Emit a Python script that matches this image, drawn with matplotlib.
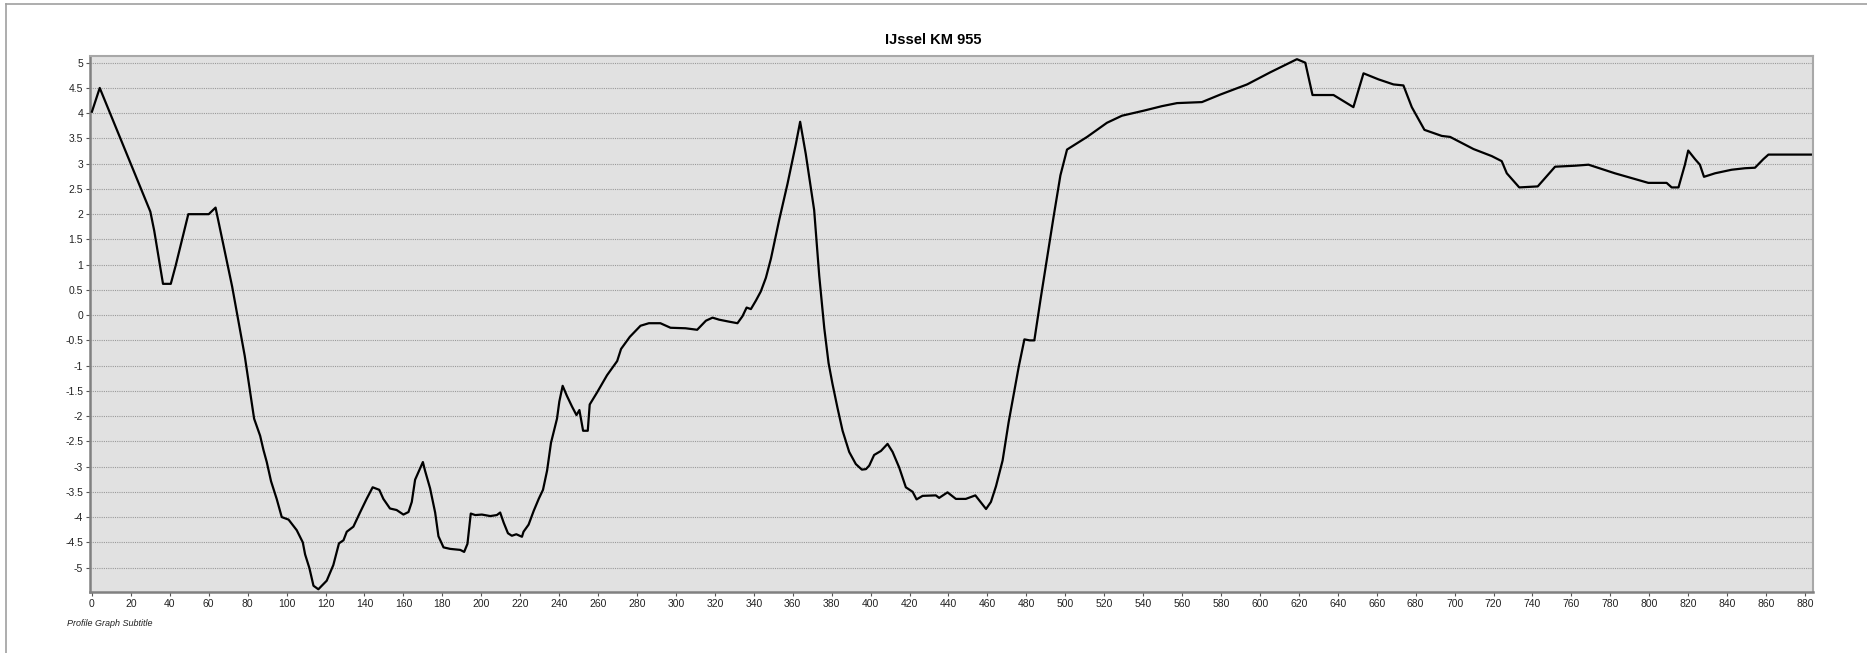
import numpy as np
import matplotlib
matplotlib.use("Agg")
import matplotlib.pyplot as plt
from matplotlib.lines import Line2D
from matplotlib.ticker import FuncFormatter

plt.rcParams['font.family'] = ['Liberation Sans', 'DejaVu Sans']

title = "IJssel KM 955"
subtitle = "Profile Graph Subtitle"

# distance along the profile
dist = [0, 4, 30, 32, 36.5, 40.5, 43, 49.5, 60, 63.5,
        72, 78.5, 83.3, 86.4, 88.1, 89.8, 92, 94.9, 97.5, 101,
        105.2, 108.3, 109.5, 111.7, 113.8, 116.3, 120.6, 124, 126.9, 129.2,
        130.9, 134.3, 137.7, 141.1, 144.2, 147.6, 149.7, 153.1, 156.5, 160,
        162.6, 164.3, 166, 170, 171.1, 173.7, 176.3, 178, 180.6, 184,
        189.2, 191.2, 192.9, 194.6, 196.9, 200.3, 204.6, 208, 209.7, 211.5,
        213.7, 215.7, 218, 220.9, 221.7, 224.3, 226.9, 229.5, 231.7, 233.8,
        235.8, 238.9, 240.1, 241.8, 244, 246.6, 248.9, 250.4, 252.3, 254.7,
        255.7, 259.5, 264.6, 269.8, 271.8, 276.3, 281.8, 286.1, 292, 297.2,
        304.9, 310.9, 315.4, 318.8, 322.2, 327.4, 331.6, 334.2, 336.3, 338.5,
        341.1, 343.6, 346.2, 348.8, 353, 357.3, 361.6, 363.8, 366.7, 371,
        373.6, 376.2, 378.4, 380.4, 383, 385.6, 389, 392.4, 395.5, 397.6,
        399.3, 401.8, 405.3, 408.7, 411.3, 414.7, 418.1, 421.6, 423.6, 426.7,
        433.5, 435.2, 439.5, 443.8, 448.9, 453.8, 459.3, 461.8, 464.4, 467.8,
        470.9, 476.1, 479, 481.7, 484.1, 487.2, 494, 497.5, 500.9, 511.2,
        521.4, 529.1, 540.3, 549.7, 557.4, 570.2, 579.7, 593.4, 605.3, 619,
        623.3, 627, 637.8, 648, 653.2, 660.9, 668.6, 673.7, 678, 684.5,
        693.4, 697.7, 709.7, 719.1, 724.2, 726.8, 733.2, 742.7, 751.6, 761.9,
        768.8, 782.3, 799.5, 808.9, 811.5, 815, 818.3, 820, 823.5, 826,
        828.1, 833.8, 842.3, 849.2, 854.3, 858.6, 861.2, 873.2, 883]

# bed level
elev = [4.03, 4.5, 2.05, 1.67, 0.62, 0.62, 0.98, 2.0, 2.0, 2.13,
        0.57, -0.81, -2.05, -2.39, -2.67, -2.91, -3.29, -3.64, -4.0, -4.05,
        -4.26, -4.5, -4.74, -5.01, -5.36, -5.43, -5.26, -4.95, -4.52, -4.46,
        -4.29, -4.19, -3.91, -3.64, -3.41, -3.46, -3.64, -3.83, -3.86, -3.95,
        -3.9, -3.7, -3.26, -2.91, -3.08, -3.43, -3.91, -4.38, -4.6, -4.63,
        -4.65, -4.69, -4.53, -3.93, -3.96, -3.95, -3.98, -3.96, -3.91, -4.11,
        -4.32, -4.37, -4.34, -4.39, -4.29, -4.15, -3.88, -3.64, -3.46, -3.08,
        -2.53, -2.05, -1.71, -1.40, -1.60, -1.81, -1.98, -1.88, -2.29, -2.29,
        -1.77, -1.53, -1.19, -0.91, -0.67, -0.43, -0.21, -0.16, -0.16, -0.25,
        -0.26, -0.29, -0.11, -0.05, -0.09, -0.13, -0.16, -0.02, 0.15, 0.12,
        0.29, 0.47, 0.74, 1.12, 1.88, 2.6, 3.39, 3.83, 3.19, 2.08,
        0.78, -0.26, -0.95, -1.36, -1.84, -2.29, -2.71, -2.95, -3.06, -3.05,
        -2.98, -2.77, -2.69, -2.55, -2.71, -3.02, -3.41, -3.50, -3.65, -3.58,
        -3.57, -3.62, -3.51, -3.64, -3.64, -3.57, -3.84, -3.70, -3.39, -2.88,
        -2.12, -1.02, -0.48, -0.5, -0.5, 0.29, 1.95, 2.77, 3.28, 3.53,
        3.81, 3.95, 4.05, 4.14, 4.2, 4.22, 4.37, 4.57, 4.81, 5.07,
        5.0, 4.36, 4.36, 4.12, 4.79, 4.67, 4.57, 4.55, 4.12, 3.67,
        3.55, 3.53, 3.29, 3.15, 3.05, 2.81, 2.53, 2.55, 2.94, 2.96,
        2.98, 2.81, 2.62, 2.62, 2.53, 2.53, 2.98, 3.26, 3.09, 2.98,
        2.74, 2.81, 2.88, 2.91, 2.92, 3.09, 3.18, 3.18, 3.18]

x_ticks = np.arange(0, 881, 20)
y_ticks = np.arange(-5, 5.01, 0.5)

W, H = 1867, 653
fig = plt.figure(figsize=(W / 100, H / 100), dpi=100)
ax = fig.add_axes([90 / W, 1 - 592 / H, (1813 - 90) / W, (592 - 56) / H])
ax.set_facecolor('#e1e1e1')

ax.plot(dist, elev, color='black', lw=1.6, zorder=3)

ax.set_xlim(-1, 884.1)
ax.set_ylim(-5.484, 5.133)
ax.set_xticks(x_ticks)
ax.set_yticks(y_ticks)
ax.yaxis.set_major_formatter(FuncFormatter(lambda v, p: '{:g}'.format(round(v, 1))))
ax.tick_params(labelsize=7.5, length=3, width=0.8, color='#555555', labelcolor='#222222', pad=2)

ax.yaxis.grid(True, color='#9a9a9a', linestyle=(0, (1, 1)), lw=0.8)
ax.set_axisbelow(True)

for s in ['top', 'right']:
    ax.spines[s].set_color('#a8a8a8')
    ax.spines[s].set_linewidth(1.5)
for s in ['left', 'bottom']:
    ax.spines[s].set_color('#808080')
    ax.spines[s].set_linewidth(1.8)

fig.text(0.5, 1 - 40 / H, title, ha='center', va='center', fontsize=10.5, fontweight='bold')
fig.text(67 / W, 1 - 623 / H, subtitle, ha='left', va='center', fontsize=6.5, style='italic', color='#222222')

# outer frame
fig.add_artist(Line2D([6 / W, 1], [1 - 4 / H, 1 - 4 / H], color='#a0a0a0', lw=1.2))
fig.add_artist(Line2D([6 / W, 6 / W], [1 - 4 / H, 0], color='#a0a0a0', lw=1.2))

fig.savefig('out.png', dpi=100)
